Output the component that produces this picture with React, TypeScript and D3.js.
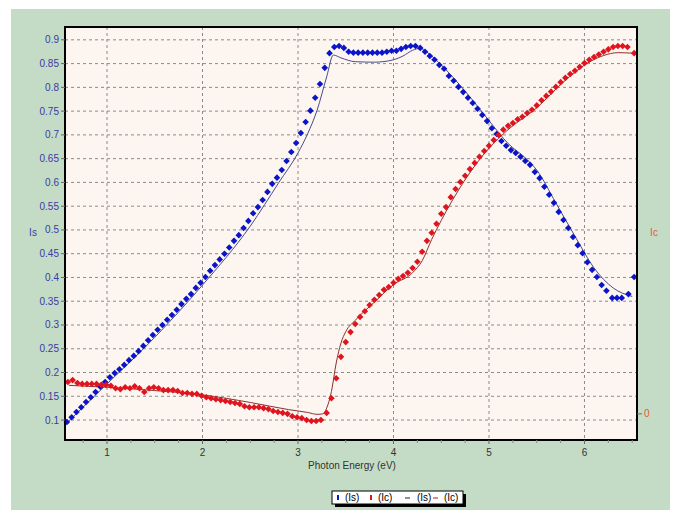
import React from "react";
import * as d3 from "d3";

// ---- Data ----
const xTicks = [1, 2, 3, 4, 5, 6];
const yTicks = [0.1, 0.15, 0.2, 0.25, 0.3, 0.35, 0.4, 0.45, 0.5, 0.55, 0.6, 0.65, 0.7, 0.75, 0.8, 0.85, 0.9];
const icTicks = [0];

// Is measured points [eV, Is]
const isPoints: [number, number][] = [
  [0.58, 0.096], [0.63, 0.106], [0.68, 0.117], [0.73, 0.127], [0.78, 0.138], [0.83, 0.148], [0.88, 0.159], [0.93, 0.17],
  [0.98, 0.18], [1.03, 0.19], [1.08, 0.199], [1.13, 0.207], [1.18, 0.216], [1.23, 0.226], [1.28, 0.235], [1.33, 0.245],
  [1.38, 0.256], [1.43, 0.268], [1.48, 0.279], [1.53, 0.29], [1.58, 0.3], [1.63, 0.311], [1.68, 0.321], [1.73, 0.332],
  [1.78, 0.344], [1.83, 0.355], [1.88, 0.365], [1.93, 0.378], [1.98, 0.389], [2.03, 0.401], [2.08, 0.414], [2.13, 0.426],
  [2.18, 0.438], [2.23, 0.45], [2.28, 0.463], [2.33, 0.477], [2.38, 0.489], [2.43, 0.504], [2.48, 0.519], [2.53, 0.535],
  [2.58, 0.548], [2.63, 0.563], [2.68, 0.58], [2.73, 0.597], [2.78, 0.61], [2.83, 0.626], [2.88, 0.645], [2.93, 0.664],
  [2.98, 0.683], [3.03, 0.704], [3.08, 0.727], [3.13, 0.751], [3.18, 0.778], [3.23, 0.807], [3.28, 0.841], [3.33, 0.872],
  [3.38, 0.885], [3.43, 0.887], [3.48, 0.883], [3.53, 0.875], [3.58, 0.873], [3.63, 0.873], [3.68, 0.873], [3.73, 0.873],
  [3.78, 0.873], [3.83, 0.873], [3.88, 0.873], [3.93, 0.875], [3.98, 0.877], [4.03, 0.877], [4.08, 0.881], [4.13, 0.885],
  [4.18, 0.887], [4.23, 0.887], [4.28, 0.883], [4.33, 0.875], [4.38, 0.866], [4.43, 0.858], [4.48, 0.847], [4.53, 0.839],
  [4.58, 0.824], [4.63, 0.814], [4.68, 0.801], [4.73, 0.79], [4.78, 0.778], [4.83, 0.767], [4.88, 0.755], [4.93, 0.742],
  [4.98, 0.729], [5.03, 0.714], [5.08, 0.702], [5.13, 0.687], [5.18, 0.677], [5.23, 0.668], [5.28, 0.662], [5.33, 0.654],
  [5.38, 0.645], [5.43, 0.637], [5.48, 0.622], [5.53, 0.609], [5.58, 0.591], [5.63, 0.574], [5.68, 0.557], [5.73, 0.538],
  [5.78, 0.521], [5.83, 0.504], [5.88, 0.485], [5.93, 0.468], [5.98, 0.451], [6.03, 0.432], [6.08, 0.416], [6.13, 0.401],
  [6.18, 0.384], [6.23, 0.372], [6.29, 0.357], [6.34, 0.357], [6.39, 0.357], [6.46, 0.365], [6.52, 0.401],
];

// Is fitted curve
const isFit: [number, number][] = [
  [0.6, 0.098], [1.0, 0.176], [1.5, 0.274], [2.0, 0.384], [2.5, 0.508], [2.8, 0.6], [3.0, 0.662], [3.1, 0.702],
  [3.2, 0.752], [3.3, 0.822], [3.37, 0.868], [3.45, 0.862], [3.6, 0.854], [3.8, 0.853], [4.0, 0.858], [4.1, 0.866],
  [4.2, 0.878], [4.28, 0.882], [4.35, 0.874], [4.5, 0.847], [4.75, 0.792], [5.0, 0.73], [5.2, 0.682], [5.4, 0.648],
  [5.5, 0.626], [5.7, 0.557], [5.9, 0.487], [6.1, 0.42], [6.3, 0.378], [6.5, 0.36],
];

// Ic measured points [eV, Ic]
const icPoints: [number, number][] = [
  [0.59, 0.067], [0.64, 0.071], [0.69, 0.065], [0.74, 0.063], [0.79, 0.063], [0.84, 0.063], [0.89, 0.063], [0.94, 0.061],
  [0.99, 0.061], [1.04, 0.059], [1.09, 0.054], [1.14, 0.052], [1.19, 0.056], [1.24, 0.054], [1.29, 0.058], [1.34, 0.054],
  [1.39, 0.046], [1.44, 0.054], [1.49, 0.056], [1.54, 0.054], [1.59, 0.05], [1.64, 0.05], [1.69, 0.05], [1.74, 0.048],
  [1.79, 0.044], [1.84, 0.044], [1.89, 0.042], [1.94, 0.042], [1.99, 0.038], [2.04, 0.035], [2.09, 0.033], [2.14, 0.031],
  [2.19, 0.029], [2.24, 0.027], [2.29, 0.025], [2.34, 0.023], [2.39, 0.021], [2.44, 0.016], [2.49, 0.014], [2.54, 0.014],
  [2.59, 0.014], [2.64, 0.012], [2.69, 0.01], [2.74, 0.006], [2.79, 0.004], [2.84, 0.002], [2.89, 0.0], [2.94, -0.005],
  [2.99, -0.007], [3.04, -0.009], [3.09, -0.013], [3.14, -0.015], [3.19, -0.015], [3.24, -0.013], [3.3, 0.002], [3.35, 0.033],
  [3.4, 0.075], [3.45, 0.12], [3.5, 0.151], [3.55, 0.172], [3.6, 0.189], [3.65, 0.204], [3.7, 0.216], [3.75, 0.229],
  [3.8, 0.24], [3.85, 0.25], [3.9, 0.261], [3.95, 0.267], [4.0, 0.276], [4.05, 0.284], [4.1, 0.29], [4.15, 0.297],
  [4.2, 0.307], [4.25, 0.32], [4.3, 0.341], [4.35, 0.364], [4.4, 0.381], [4.45, 0.4], [4.5, 0.421], [4.55, 0.435],
  [4.6, 0.456], [4.65, 0.473], [4.7, 0.488], [4.75, 0.501], [4.8, 0.515], [4.85, 0.528], [4.9, 0.541], [4.95, 0.553],
  [5.0, 0.564], [5.05, 0.576], [5.1, 0.587], [5.15, 0.598], [5.2, 0.606], [5.25, 0.612], [5.3, 0.62], [5.35, 0.625],
  [5.4, 0.633], [5.45, 0.64], [5.5, 0.649], [5.55, 0.66], [5.6, 0.669], [5.65, 0.678], [5.7, 0.688], [5.75, 0.698],
  [5.8, 0.707], [5.85, 0.715], [5.9, 0.722], [5.95, 0.73], [6.0, 0.738], [6.05, 0.745], [6.1, 0.751], [6.15, 0.756],
  [6.2, 0.762], [6.25, 0.767], [6.3, 0.772], [6.35, 0.774], [6.4, 0.774], [6.45, 0.772], [6.52, 0.759],
];

// Ic fitted curve
const icFit: [number, number][] = [
  [0.6, 0.06], [1.0, 0.056], [1.5, 0.049], [2.0, 0.04], [2.5, 0.024], [2.9, 0.009], [3.1, 0.003], [3.2, -0.001],
  [3.26, 0.0], [3.3, 0.012], [3.35, 0.047], [3.4, 0.107], [3.45, 0.149], [3.5, 0.173], [3.6, 0.197], [3.8, 0.235],
  [4.0, 0.272], [4.2, 0.297], [4.3, 0.322], [4.4, 0.367], [4.5, 0.407], [4.7, 0.477], [5.0, 0.559], [5.2, 0.598],
  [5.5, 0.644], [5.8, 0.702], [6.0, 0.734], [6.2, 0.754], [6.35, 0.76], [6.5, 0.759],
];

const W = 681;
const H = 519;
const M = { left: 65, right: 637, top: 27, bottom: 440 };

export default function App() {
  const x = d3.scaleLinear().domain([0.56, 6.55]).range([M.left, M.right]);
  const y = d3.scaleLinear().domain([0.058, 0.927]).range([M.bottom, M.top]);
  const yIc = d3.scaleLinear().domain([-0.055, 0.814]).range([M.bottom, M.top]);

  const lineIs = d3.line<[number, number]>().x(d => x(d[0])).y(d => y(d[1])).curve(d3.curveMonotoneX);
  const lineIc = d3.line<[number, number]>().x(d => x(d[0])).y(d => yIc(d[1])).curve(d3.curveMonotoneX);
  const diamond = (cx: number, cy: number, r = 3.3) =>
    `M${cx},${cy - r}L${cx + r},${cy}L${cx},${cy + r}L${cx - r},${cy}Z`;

  const minorX = d3.range(0.75, 6.55, 0.25).filter(v => Math.abs(v - Math.round(v)) > 0.01);
  const font = "Liberation Sans, Arial, sans-serif";

  return (
    <svg width={W} height={H} style={{ position: "absolute", left: 0, top: 0 }} fontFamily={font}>
      <rect x={0} y={0} width={W} height={H} fill="#ffffff" />
      <rect x={11} y={9} width={659} height={501} fill="#c4dcc5" />
      <rect x={M.left} y={M.top} width={M.right - M.left} height={M.bottom - M.top} fill="#fdf6f0" />

      {/* grid */}
      {yTicks.map(t => (
        <line key={"gy" + t} x1={M.left} x2={M.right} y1={y(t)} y2={y(t)} stroke="#8a8a8a" strokeWidth={1} strokeDasharray="3,3" />
      ))}
      {xTicks.map(t => (
        <line key={"gx" + t} x1={x(t)} x2={x(t)} y1={M.top} y2={M.bottom} stroke="#8a8a8a" strokeWidth={1} strokeDasharray="3,3" />
      ))}

      {/* fit lines */}
      <path d={lineIs(isFit) || ""} fill="none" stroke="#4a4a8c" strokeWidth={1} />
      <path d={lineIc(icFit) || ""} fill="none" stroke="#8c3030" strokeWidth={1} />

      {/* points */}
      {isPoints.map((d, i) => (
        <path key={"b" + i} d={diamond(x(d[0]), y(d[1]))} fill="#0a14c8" />
      ))}
      {icPoints.map((d, i) => (
        <path key={"r" + i} d={diamond(x(d[0]), yIc(d[1]))} fill="#e0141e" />
      ))}

      {/* frame */}
      <rect x={M.left} y={M.top} width={M.right - M.left} height={M.bottom - M.top} fill="none" stroke="#000" strokeWidth={2} />

      {/* left axis */}
      {yTicks.map(t => (
        <g key={"ty" + t}>
          <line x1={M.left - 4} x2={M.left} y1={y(t)} y2={y(t)} stroke="#666" />
          <text x={M.left - 6} y={y(t)} dy="0.35em" textAnchor="end" fontSize={10} fill="#3a3aa8">{t}</text>
        </g>
      ))}
      <text x={33} y={236} fontSize={10} fill="#3a3aa8" textAnchor="middle">Is</text>

      {/* right axis */}
      {icTicks.map(t => (
        <g key={"ti" + t}>
          <line x1={M.right} x2={M.right + 5} y1={yIc(t)} y2={yIc(t)} stroke="#666" />
          <text x={M.right + 7} y={yIc(t)} dy="0.35em" fontSize={10} fill="#e05a3a">{t}</text>
        </g>
      ))}
      <text x={654} y={236} fontSize={10} fill="#e05a3a" textAnchor="middle">Ic</text>

      {/* bottom axis */}
      {xTicks.map(t => (
        <g key={"tx" + t}>
          <line x1={x(t)} x2={x(t)} y1={M.bottom} y2={M.bottom + 4} stroke="#666" />
          <text x={x(t)} y={M.bottom + 16} textAnchor="middle" fontSize={10} fill="#333">{t}</text>
        </g>
      ))}
      {minorX.map(t => (
        <line key={"mx" + t} x1={x(t)} x2={x(t)} y1={M.bottom} y2={M.bottom + 3} stroke="#888" />
      ))}
      <text x={352} y={469} textAnchor="middle" fontSize={10} fill="#333">Photon Energy (eV)</text>

      {/* legend */}
      <rect x={335} y={494} width={131} height={13} fill="#000" />
      <rect x={332} y={491} width={131} height={13} fill="#fff" stroke="#000" strokeWidth={1} />
      <rect x={337} y={495} width={2} height={5} fill="#0a14c8" />
      <text x={345} y={501} fontSize={10} fill="#000">(Is)</text>
      <rect x={370} y={495} width={2} height={5} fill="#e0141e" />
      <text x={378} y={501} fontSize={10} fill="#000">(Ic)</text>
      <line x1={405} x2={410} y1={498} y2={498} stroke="#222" strokeWidth={1} />
      <text x={417} y={501} fontSize={10} fill="#000">(Is)</text>
      <line x1={433} x2={438} y1={498} y2={498} stroke="#c0141e" strokeWidth={1} />
      <text x={444} y={501} fontSize={10} fill="#000">(Ic)</text>
    </svg>
  );
}
